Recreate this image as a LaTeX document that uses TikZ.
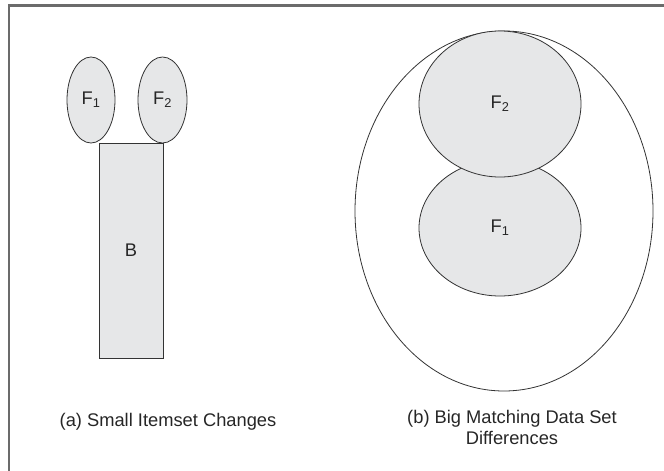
\documentclass[tikz,border=0pt]{standalone}
\usepackage{fontspec}
\setmainfont{Liberation Sans}
\usetikzlibrary{shapes.geometric}
\definecolor{shade}{HTML}{E6E7E8}
\definecolor{edge}{HTML}{333333}
\definecolor{framec}{HTML}{6B6B6B}
\tikzset{
  setshape/.style={ellipse, draw=edge, fill=shade, line width=0.8pt, inner sep=0pt},
  boxshape/.style={rectangle, draw=edge, fill=shade, line width=0.8pt, inner sep=0pt},
  outershape/.style={ellipse, draw=edge, fill=white, line width=0.8pt, inner sep=0pt},
  lbl/.style={font=\fontsize{18.3}{21}\selectfont, text=black!85, align=center, inner sep=0pt},
}
\begin{document}
\begin{tikzpicture}[x=1pt, y=-1pt]
\useasboundingbox (0,0) rectangle (664,471);
% frame (top and left edges only)
\coordinate (fr) at (664,5.5);
\coordinate (ftl) at (9,5.5);
\coordinate (fb) at (9,471);
\draw[framec, line width=2.2pt] (fr) -- (ftl) -- (fb);
% (a)
\node[setshape, minimum width=48pt, minimum height=86pt] (af1) at (91,100) {};
\node[setshape, minimum width=49pt, minimum height=86pt] (af2) at (162.5,100) {};
\node[boxshape, minimum width=64pt, minimum height=215pt] (ab) at (131,250.5) {};
\node[lbl] at (af1) {F\textsubscript{1}};
\node[lbl] at (af2) {F\textsubscript{2}};
\node[lbl] at (ab) {B};
\node[lbl] (alab) at (168,422) {(a) Small Itemset Changes};
% (b)
\node[outershape, minimum width=298pt, minimum height=360pt] (bo) at (504,211) {};
\node[setshape, minimum width=162pt, minimum height=136pt] (bf1) at (500,228) {};
\node[setshape, minimum width=162pt, minimum height=146pt] (bf2) at (500,104) {};
\node[lbl] at (bf1) {F\textsubscript{1}};
\node[lbl] at (bf2) {F\textsubscript{2}};
\node[lbl] (blab) at (512,427.5) {(b) Big Matching Data Set\\Differences};
\end{tikzpicture}
\end{document}
